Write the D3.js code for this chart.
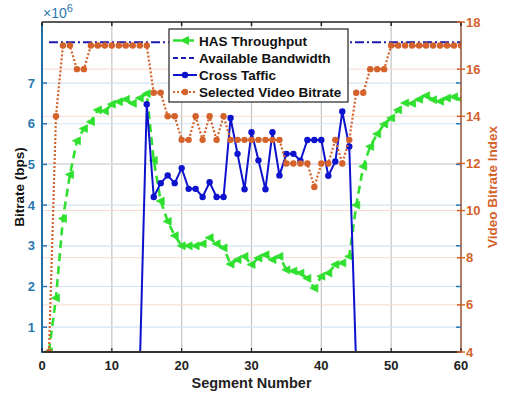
<!DOCTYPE html>
<html><head><meta charset="utf-8">
<script src="https://cdn.jsdelivr.net/npm/d3@7"></script>
<style>body{margin:0;background:#fff}svg{display:block;font-family:"Liberation Sans",Arial,sans-serif}</style>
</head><body><svg id="c" width="506" height="402"></svg>
<script>
// ---- data ----
const segments = d3.range(1, 61);
const hasThroughput = [0.4,1.72,3.67,4.75,5.58,5.88,6.05,6.34,6.31,6.48,
  6.54,6.6,6.5,6.63,6.74,5.1,4.1,3.6,3.25,3.0,
  3.0,3.0,3.05,3.2,3.05,2.95,2.55,2.66,2.74,2.54,
  2.7,2.78,2.66,2.74,2.41,2.38,2.33,2.2,1.96,2.25,
  2.33,2.54,2.58,2.74,4.0,4.95,5.44,5.75,5.99,6.14,
  6.34,6.51,6.5,6.6,6.69,6.59,6.55,6.63,6.66,6.6];
const bandwidthSegments = [1, 60];
const bandwidthValues = [8.0, 8.0];
const crossSegments = d3.range(14, 46);
const crossTraffic = [0,6.48,4.2,4.54,4.73,4.54,4.91,4.4,4.4,4.2,
  4.56,4.2,4.2,6.14,5.26,4.39,5.79,5.1,4.39,5.79,
  4.73,5.26,5.26,5.09,5.6,5.6,5.6,4.72,5.07,6.3,
  5.44,0];
const bitrateIndex = [4,14,17,17,16,16,17,17,17,17,
  17,17,17,17,17,15,15,14,14,13,
  13,14,13,14,13,14,13,13,13,13,
  13,13,13,13,12,12,12,12,11,12,
  12,13,12,13,15,15,16,16,16,17,
  17,17,17,17,17,17,17,17,17,17];
const xTicks = [0,10,20,30,40,50,60];
const leftTicks = [1,2,3,4,5,6,7];
const rightTicks = [4,6,8,10,12,14,16,18];
const legendLabels = ["HAS Throughput","Available Bandwidth","Cross Taffic","Selected Video Bitrate"];

// ---- layout ----
const L = 42, R = 461, T = 22, B = 352;
const cGreen = "#2fe02f", cBW = "#1a1ab0", cBlue = "#0d12cc", cOrange = "#d4622b";
const cLeft = "#2a78b2", cRight = "#d4622b";

const svg = d3.select("#c");
const x = d3.scaleLinear().domain([0, 60]).range([L, R]);
const yL = d3.scaleLinear().domain([0.39, 8.5]).range([B, T]);
const yR = d3.scaleLinear().domain([4, 18]).range([B, T]);

svg.append("defs").append("clipPath").attr("id","clip")
  .append("rect").attr("x",L).attr("y",T).attr("width",R-L).attr("height",B-T);

// grid
const g = svg.append("g");
g.selectAll(".gx").data(xTicks.slice(1,-1)).join("line")
  .attr("x1",d=>x(d)).attr("x2",d=>x(d)).attr("y1",T).attr("y2",B)
  .attr("stroke","#c4c4c4").attr("stroke-width",1.2);
g.selectAll(".gr").data(rightTicks.slice(1,-1)).join("line")
  .attr("x1",L).attr("x2",R).attr("y1",d=>yR(d)).attr("y2",d=>yR(d))
  .attr("stroke","#f6d9cf").attr("stroke-width",1);
g.selectAll(".gl").data(leftTicks).join("line")
  .attr("x1",L).attr("x2",R).attr("y1",d=>yL(d)).attr("y2",d=>yL(d))
  .attr("stroke","#d3e3f0").attr("stroke-width",1.2);

// series
const plot = svg.append("g").attr("clip-path","url(#clip)");

plot.append("path").datum(bandwidthSegments.map((s,i)=>[s,bandwidthValues[i]]))
  .attr("d", d3.line().x(d=>x(d[0])).y(d=>yL(d[1])))
  .attr("fill","none").attr("stroke",cBW).attr("stroke-width",2)
  .attr("stroke-dasharray","9,3,2,3");

const hasData = segments.map((s,i)=>[s,hasThroughput[i]]);
plot.append("path").datum(hasData)
  .attr("d", d3.line().x(d=>x(d[0])).y(d=>yL(d[1])))
  .attr("fill","none").attr("stroke",cGreen).attr("stroke-width",2.6)
  .attr("stroke-dasharray","8,5");
const tri = "M-4.5,0L3.5,-3.9L3.5,3.9Z";
plot.selectAll(".tri").data(hasData).join("path")
  .attr("d",tri).attr("transform",d=>`translate(${x(d[0])},${yL(d[1])})`)
  .attr("fill",cGreen).attr("stroke",cGreen).attr("stroke-width",0.8);

const crossData = crossSegments.map((s,i)=>[s,crossTraffic[i]]);
plot.append("path").datum(crossData)
  .attr("d", d3.line().x(d=>x(d[0])).y(d=>yL(d[1])))
  .attr("fill","none").attr("stroke",cBlue).attr("stroke-width",2);
plot.selectAll(".cd").data(crossData).join("circle")
  .attr("cx",d=>x(d[0])).attr("cy",d=>yL(d[1])).attr("r",3.2).attr("fill",cBlue);

const brData = segments.map((s,i)=>[s,bitrateIndex[i]]);
plot.append("path").datum(brData)
  .attr("d", d3.line().x(d=>x(d[0])).y(d=>yR(d[1])))
  .attr("fill","none").attr("stroke",cOrange).attr("stroke-width",2.2)
  .attr("stroke-dasharray","2,2");
plot.selectAll(".bd").data(brData).join("circle")
  .attr("cx",d=>x(d[0])).attr("cy",d=>yR(d[1])).attr("r",3.2).attr("fill",cOrange);

// axes frame
const ax = svg.append("g");
ax.append("line").attr("x1",L).attr("x2",R).attr("y1",T).attr("y2",T).attr("stroke","#222").attr("stroke-width",1.5);
ax.append("line").attr("x1",L).attr("x2",R).attr("y1",B).attr("y2",B).attr("stroke","#3a302a").attr("stroke-width",2);
ax.append("line").attr("x1",L).attr("x2",L).attr("y1",T).attr("y2",B+1).attr("stroke","#1f6ea6").attr("stroke-width",2);
ax.append("line").attr("x1",R).attr("x2",R).attr("y1",T).attr("y2",B+1).attr("stroke","#9c5a3c").attr("stroke-width",1.6);

// x ticks
ax.selectAll(".xt").data(xTicks).join("line")
  .attr("x1",d=>x(d)).attr("x2",d=>x(d)).attr("y1",B).attr("y2",B-4).attr("stroke","#222").attr("stroke-width",1.2);
ax.selectAll(".xtt").data(xTicks).join("line")
  .attr("x1",d=>x(d)).attr("x2",d=>x(d)).attr("y1",T).attr("y2",T+4).attr("stroke","#222").attr("stroke-width",1.5);
ax.selectAll(".xl").data(xTicks).join("text")
  .attr("x",d=>x(d)).attr("y",B+18).attr("text-anchor","middle")
  .attr("font-size",13).attr("font-weight","bold").attr("fill","#222").text(d=>d);
ax.append("text").attr("x",(L+R)/2).attr("y",388).attr("text-anchor","middle")
  .attr("font-size",14.5).attr("font-weight","bold").attr("fill","#222").text("Segment Number");

// left ticks
ax.selectAll(".lt").data(leftTicks).join("line")
  .attr("x1",L).attr("x2",L+5).attr("y1",d=>yL(d)).attr("y2",d=>yL(d)).attr("stroke",cLeft).attr("stroke-width",1.5);
ax.selectAll(".lt2").data(leftTicks).join("line")
  .attr("x1",R-5).attr("x2",R).attr("y1",d=>yL(d)).attr("y2",d=>yL(d)).attr("stroke",cLeft).attr("stroke-width",1.5);
ax.selectAll(".ll").data(leftTicks).join("text")
  .attr("x",L-7).attr("y",d=>yL(d)+4.5).attr("text-anchor","end")
  .attr("font-size",13).attr("font-weight","bold").attr("fill",cLeft).text(d=>d);
const ex = ax.append("text").attr("x",L+1).attr("y",18).attr("font-size",14).attr("fill",cLeft);
ex.append("tspan").text("\u00d710");
ex.append("tspan").attr("dy",-6).attr("font-size",11).text("6");
ax.append("text").attr("transform",`translate(24,${(T+B)/2}) rotate(-90)`)
  .attr("text-anchor","middle").attr("font-size",13.5).attr("font-weight","bold").attr("fill","#111").text("Bitrate (bps)");

// right ticks
ax.selectAll(".rt").data(rightTicks).join("line")
  .attr("x1",R-4).attr("x2",R+4).attr("y1",d=>yR(d)).attr("y2",d=>yR(d)).attr("stroke",cRight).attr("stroke-width",1.5);
ax.selectAll(".rl").data(rightTicks).join("text")
  .attr("x",R+5).attr("y",d=>yR(d)+4.5).attr("text-anchor","start")
  .attr("font-size",13).attr("font-weight","bold").attr("fill",cRight).text(d=>d);
ax.append("text").attr("transform",`translate(497,${(T+B)/2}) rotate(-90)`)
  .attr("text-anchor","middle").attr("font-size",13.5).attr("font-weight","bold").attr("fill",cRight).text("Video Bitrate Index");

// legend
const lg = svg.append("g");
lg.append("rect").attr("x",169).attr("y",29).attr("width",179).attr("height",73)
  .attr("fill","#fff").attr("stroke","#333").attr("stroke-width",1.3);
const rows = [40.5, 58, 75, 92];
lg.selectAll(".lt").data(legendLabels).join("text")
  .attr("x",199).attr("y",(d,i)=>rows[i]+5).attr("font-size",13.5).attr("font-weight","bold").attr("fill","#111").text(d=>d);
// samples
lg.append("line").attr("x1",173).attr("x2",197).attr("y1",rows[0]).attr("y2",rows[0])
  .attr("stroke",cGreen).attr("stroke-width",2.6).attr("stroke-dasharray","8,5");
lg.append("path").attr("d",tri).attr("transform",`translate(185,${rows[0]})`).attr("fill",cGreen).attr("stroke",cGreen);
lg.append("line").attr("x1",173).attr("x2",197).attr("y1",rows[1]).attr("y2",rows[1])
  .attr("stroke",cBW).attr("stroke-width",2).attr("stroke-dasharray","5,3");
lg.append("line").attr("x1",173).attr("x2",197).attr("y1",rows[2]).attr("y2",rows[2])
  .attr("stroke",cBlue).attr("stroke-width",2);
lg.append("circle").attr("cx",185).attr("cy",rows[2]).attr("r",3.2).attr("fill",cBlue);
lg.append("line").attr("x1",173).attr("x2",197).attr("y1",rows[3]).attr("y2",rows[3])
  .attr("stroke",cOrange).attr("stroke-width",2.2).attr("stroke-dasharray","2,2");
lg.append("circle").attr("cx",185).attr("cy",rows[3]).attr("r",3.2).attr("fill",cOrange);
</script></body></html>
